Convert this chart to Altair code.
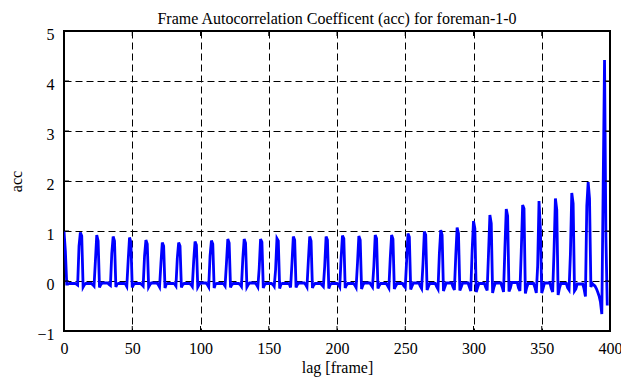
import altair as alt
import pandas as pd

# ---- data -------------------------------------------------------------
# spike k (k = 1..33) sits at lag 12k; values at lags 12k-2 .. 12k+2
spike_lead = [-0.08, -0.10, -0.09, -0.11, -0.10, -0.12, -0.10, -0.11, -0.12, -0.10, -0.11,
              -0.12, -0.11, -0.13, -0.12, -0.11, -0.12, -0.13, -0.12, -0.14, -0.13, -0.15,
              -0.16, -0.18, -0.20, -0.19, -0.22, -0.20, -0.24, -0.22, -0.18, -0.31, -0.66]
spike_pre = [0.70, 0.40, 0.55, 0.40, 0.50, 0.35, 0.45, 0.40, 0.50, 0.35, 0.45,
             0.25, 0.22, 0.35, 0.40, 0.30, 0.45, 0.35, 0.30, 0.45, 0.40, 0.35,
             0.55, 0.50, 0.60, 0.55, 0.65, 0.60, 0.30, 0.60, 0.54, 1.50, 1.90]
spike_peak = [0.97, 0.92, 0.89, 0.87, 0.82, 0.77, 0.77, 0.79, 0.81, 0.84, 0.84,
              0.84, 0.85, 0.89, 0.89, 0.89, 0.91, 0.90, 0.92, 0.92, 0.95, 0.99,
              1.02, 1.07, 1.20, 1.32, 1.44, 1.52, 1.60, 1.65, 1.76, 1.98, 4.42]
spike_post = [0.90, 0.80, 0.80, 0.78, 0.74, 0.70, 0.70, 0.72, 0.74, 0.76, 0.76,
              0.78, 0.80, 0.82, 0.80, 0.82, 0.85, 0.82, 0.85, 0.84, 0.88, 0.92,
              0.92, 0.95, 1.05, 1.15, 1.30, 1.45, 1.05, 1.43, 1.55, 1.65, 0.88]
spike_dip = [-0.12, -0.13, -0.12, -0.13, -0.12, -0.14, -0.13, -0.12, -0.14, -0.13, -0.12,
             -0.14, -0.15, -0.13, -0.14, -0.15, -0.14, -0.16, -0.15, -0.16, -0.17, -0.18,
             -0.20, -0.19, -0.22, -0.24, -0.21, -0.25, -0.24, -0.28, -0.20, -0.12, -0.49]

# lags 0..2
start_vals = [1.00, 0.60, -0.06]

# baseline between spikes (lags 12k+3 .. 12k+9), cycles k = 0..31
base_edge = [-0.06, -0.07, -0.07, -0.06, -0.07, -0.07, -0.06, -0.07, -0.07, -0.06, -0.07,
             -0.07, -0.07, -0.06, -0.07, -0.08, -0.07, -0.08, -0.08, -0.09, -0.10, -0.10,
             -0.11, -0.12, -0.12, -0.13, -0.12, -0.14, -0.13, -0.15, -0.14, -0.16]
base_mid = [-0.05, -0.05, -0.04, -0.05, -0.05, -0.04, -0.05, -0.05, -0.04, -0.05, -0.05,
            -0.04, -0.05, -0.05, -0.04, -0.05, -0.05, -0.05, -0.04, -0.05, -0.05, -0.04,
            -0.05, -0.04, -0.04, -0.05, -0.04, -0.03, -0.05, -0.04, -0.05, -0.06]
# last baseline stretch, lags 387..393
tail_vals = [-0.05, -0.08, -0.10, -0.15, -0.22, -0.30, -0.42]

x_ticks = [0, 50, 100, 150, 200, 250, 300, 350, 400]
y_ticks = [-1, 0, 1, 2, 3, 4, 5]

# ---- assemble the series ---------------------------------------------
acc = list(start_vals)
for k in range(33):
    if k < 32:
        acc += [base_edge[k]] + [base_mid[k]] * 5 + [base_edge[k]]
    else:
        acc += tail_vals
    acc += [spike_lead[k], spike_pre[k], spike_peak[k], spike_post[k], spike_dip[k]]

df = pd.DataFrame({"lag": list(range(len(acc))), "acc": acc})
xt = pd.DataFrame({"lag": x_ticks[1:-1]})
yt = pd.DataFrame({"acc": y_ticks[1:-1]})

W, H = 546, 300
FONT = "Liberation Serif"
xscale = alt.Scale(domain=[0, 400], nice=False, zero=False)
yscale = alt.Scale(domain=[-1, 5], nice=False, zero=False)
xaxis = alt.Axis(title="lag [frame]", values=x_ticks, labelPadding=9, titlePadding=3,
                 labelFlush=False)
yaxis = alt.Axis(title="acc", values=y_ticks, labelPadding=10, titlePadding=12,
                 labelFlush=False, labelOffset=3)

line = alt.Chart(df).mark_line(color="#0000ff", strokeWidth=2.8, clip=True).encode(
    x=alt.X("lag:Q", scale=xscale, axis=xaxis),
    y=alt.Y("acc:Q", scale=yscale, axis=yaxis),
)

bottom_ticks = alt.Chart(xt).mark_rule(color="black", strokeWidth=1).encode(
    x=alt.X("lag:Q", scale=xscale, axis=xaxis), y=alt.value(H), y2=alt.value(H - 5))
top_ticks = alt.Chart(xt).mark_rule(color="black", strokeWidth=1).encode(
    x=alt.X("lag:Q", scale=xscale, axis=xaxis), y=alt.value(0), y2=alt.value(5))
left_ticks = alt.Chart(yt).mark_rule(color="black", strokeWidth=1).encode(
    y=alt.Y("acc:Q", scale=yscale, axis=yaxis), x=alt.value(0), x2=alt.value(5))
right_ticks = alt.Chart(yt).mark_rule(color="black", strokeWidth=1).encode(
    y=alt.Y("acc:Q", scale=yscale, axis=yaxis), x=alt.value(W), x2=alt.value(W - 5))

chart = alt.layer(line, bottom_ticks, top_ticks, left_ticks, right_ticks).properties(
    width=W, height=H,
    background="white",
    title=alt.Title("Frame Autocorrelation Coefficent (acc) for foreman-1-0",
                    font=FONT, fontSize=16, fontWeight="normal", color="black",
                    anchor="middle", offset=-1),
    autosize=alt.AutoSizeParams(type="none"),
    padding={"left": 56, "top": 23, "right": 11, "bottom": 48},
).configure_view(stroke="black", strokeWidth=2).configure_axis(
    labelFont=FONT, labelFontSize=16, labelColor="black",
    titleFont=FONT, titleFontSize=16, titleFontWeight="normal", titleColor="black",
    grid=True, gridColor="black", gridDash=[7, 4], gridWidth=1, gridOpacity=1,
    domain=False, ticks=False,
)

chart.save("out.html", embed_options={"renderer": "svg", "actions": False})
